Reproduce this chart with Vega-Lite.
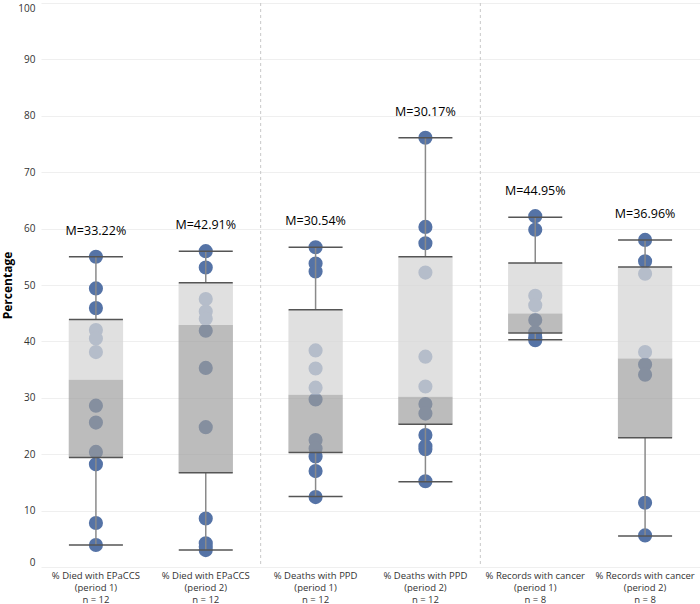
{
  "$schema": "https://vega.github.io/schema/vega-lite/v6.json",
  "width": 659,
  "height": 564,
  "padding": {"left": 1, "top": 2, "right": 0, "bottom": 0},
  "background": "white",
  "config": {
    "view": {"stroke": null},
    "font": "Open Sans",
    "axis": {"labelFont": "Open Sans", "titleFont": "Open Sans"}
  },
  "datasets": {
    "boxes": [
      {"cat": "% Died with EPaCCS|(period 1)|n = 12", "lo": 3.9, "q1": 19.4, "med": 33.22, "q3": 43.9, "hi": 55.0, "label": "M=33.22%"},
      {"cat": "% Died with EPaCCS|(period 2)|n = 12", "lo": 3.0, "q1": 16.7, "med": 42.91, "q3": 50.4, "hi": 56.0, "label": "M=42.91%"},
      {"cat": "% Deaths with PPD|(period 1)|n = 12", "lo": 12.5, "q1": 20.3, "med": 30.54, "q3": 45.6, "hi": 56.7, "label": "M=30.54%"},
      {"cat": "% Deaths with PPD|(period 2)|n = 12", "lo": 15.1, "q1": 25.3, "med": 30.17, "q3": 55.0, "hi": 76.1, "label": "M=30.17%"},
      {"cat": "% Records with cancer|(period 1)|n = 8", "lo": 40.3, "q1": 41.5, "med": 44.95, "q3": 53.9, "hi": 62.0, "label": "M=44.95%"},
      {"cat": "% Records with cancer|(period 2)|n = 8", "lo": 5.5, "q1": 22.9, "med": 36.96, "q3": 53.2, "hi": 58.0, "label": "M=36.96%"}
    ],
    "points": [
      {"cat": "% Died with EPaCCS|(period 1)|n = 12", "v": 55.0},
      {"cat": "% Died with EPaCCS|(period 1)|n = 12", "v": 49.4},
      {"cat": "% Died with EPaCCS|(period 1)|n = 12", "v": 45.9},
      {"cat": "% Died with EPaCCS|(period 1)|n = 12", "v": 42.0},
      {"cat": "% Died with EPaCCS|(period 1)|n = 12", "v": 40.5},
      {"cat": "% Died with EPaCCS|(period 1)|n = 12", "v": 38.1},
      {"cat": "% Died with EPaCCS|(period 1)|n = 12", "v": 28.6},
      {"cat": "% Died with EPaCCS|(period 1)|n = 12", "v": 25.6},
      {"cat": "% Died with EPaCCS|(period 1)|n = 12", "v": 20.4},
      {"cat": "% Died with EPaCCS|(period 1)|n = 12", "v": 18.2},
      {"cat": "% Died with EPaCCS|(period 1)|n = 12", "v": 7.8},
      {"cat": "% Died with EPaCCS|(period 1)|n = 12", "v": 3.9},
      {"cat": "% Died with EPaCCS|(period 2)|n = 12", "v": 56.0},
      {"cat": "% Died with EPaCCS|(period 2)|n = 12", "v": 53.1},
      {"cat": "% Died with EPaCCS|(period 2)|n = 12", "v": 47.5},
      {"cat": "% Died with EPaCCS|(period 2)|n = 12", "v": 45.3},
      {"cat": "% Died with EPaCCS|(period 2)|n = 12", "v": 44.0},
      {"cat": "% Died with EPaCCS|(period 2)|n = 12", "v": 41.9},
      {"cat": "% Died with EPaCCS|(period 2)|n = 12", "v": 35.3},
      {"cat": "% Died with EPaCCS|(period 2)|n = 12", "v": 24.8},
      {"cat": "% Died with EPaCCS|(period 2)|n = 12", "v": 8.6},
      {"cat": "% Died with EPaCCS|(period 2)|n = 12", "v": 4.2},
      {"cat": "% Died with EPaCCS|(period 2)|n = 12", "v": 3.6},
      {"cat": "% Died with EPaCCS|(period 2)|n = 12", "v": 3.0},
      {"cat": "% Deaths with PPD|(period 1)|n = 12", "v": 56.7},
      {"cat": "% Deaths with PPD|(period 1)|n = 12", "v": 53.8},
      {"cat": "% Deaths with PPD|(period 1)|n = 12", "v": 52.4},
      {"cat": "% Deaths with PPD|(period 1)|n = 12", "v": 38.4},
      {"cat": "% Deaths with PPD|(period 1)|n = 12", "v": 35.2},
      {"cat": "% Deaths with PPD|(period 1)|n = 12", "v": 31.8},
      {"cat": "% Deaths with PPD|(period 1)|n = 12", "v": 29.7},
      {"cat": "% Deaths with PPD|(period 1)|n = 12", "v": 22.5},
      {"cat": "% Deaths with PPD|(period 1)|n = 12", "v": 21.0},
      {"cat": "% Deaths with PPD|(period 1)|n = 12", "v": 19.6},
      {"cat": "% Deaths with PPD|(period 1)|n = 12", "v": 17.0},
      {"cat": "% Deaths with PPD|(period 1)|n = 12", "v": 12.4},
      {"cat": "% Deaths with PPD|(period 2)|n = 12", "v": 76.1},
      {"cat": "% Deaths with PPD|(period 2)|n = 12", "v": 60.3},
      {"cat": "% Deaths with PPD|(period 2)|n = 12", "v": 57.4},
      {"cat": "% Deaths with PPD|(period 2)|n = 12", "v": 52.2},
      {"cat": "% Deaths with PPD|(period 2)|n = 12", "v": 37.3},
      {"cat": "% Deaths with PPD|(period 2)|n = 12", "v": 32.0},
      {"cat": "% Deaths with PPD|(period 2)|n = 12", "v": 28.9},
      {"cat": "% Deaths with PPD|(period 2)|n = 12", "v": 27.2},
      {"cat": "% Deaths with PPD|(period 2)|n = 12", "v": 23.4},
      {"cat": "% Deaths with PPD|(period 2)|n = 12", "v": 21.4},
      {"cat": "% Deaths with PPD|(period 2)|n = 12", "v": 20.9},
      {"cat": "% Deaths with PPD|(period 2)|n = 12", "v": 15.2},
      {"cat": "% Records with cancer|(period 1)|n = 8", "v": 62.2},
      {"cat": "% Records with cancer|(period 1)|n = 8", "v": 59.8},
      {"cat": "% Records with cancer|(period 1)|n = 8", "v": 48.1},
      {"cat": "% Records with cancer|(period 1)|n = 8", "v": 46.4},
      {"cat": "% Records with cancer|(period 1)|n = 8", "v": 43.8},
      {"cat": "% Records with cancer|(period 1)|n = 8", "v": 41.6},
      {"cat": "% Records with cancer|(period 1)|n = 8", "v": 40.7},
      {"cat": "% Records with cancer|(period 1)|n = 8", "v": 40.2},
      {"cat": "% Records with cancer|(period 2)|n = 8", "v": 58.0},
      {"cat": "% Records with cancer|(period 2)|n = 8", "v": 54.2},
      {"cat": "% Records with cancer|(period 2)|n = 8", "v": 52.0},
      {"cat": "% Records with cancer|(period 2)|n = 8", "v": 38.1},
      {"cat": "% Records with cancer|(period 2)|n = 8", "v": 35.9},
      {"cat": "% Records with cancer|(period 2)|n = 8", "v": 34.1},
      {"cat": "% Records with cancer|(period 2)|n = 8", "v": 11.4},
      {"cat": "% Records with cancer|(period 2)|n = 8", "v": 5.6}
    ],
    "seps": [
      {"cat": "% Deaths with PPD|(period 1)|n = 12"},
      {"cat": "% Records with cancer|(period 1)|n = 8"}
    ]
  },
  "encoding": {
    "x": {
      "field": "cat",
      "type": "nominal",
      "scale": {
        "domain": [
          "% Died with EPaCCS|(period 1)|n = 12",
          "% Died with EPaCCS|(period 2)|n = 12",
          "% Deaths with PPD|(period 1)|n = 12",
          "% Deaths with PPD|(period 2)|n = 12",
          "% Records with cancer|(period 1)|n = 8",
          "% Records with cancer|(period 2)|n = 8"
        ],
        "paddingInner": 0,
        "paddingOuter": 0
      },
      "axis": {
        "title": null,
        "labelAngle": 0,
        "ticks": false,
        "domain": false,
        "grid": false,
        "labelExpr": "split(datum.label, '|')",
        "labelFontSize": 9.5,
        "labelLineHeight": 12,
        "labelPadding": 3,
        "labelColor": "#333333",
        "labelLimit": 200
      }
    }
  },
  "layer": [
    {
      "data": {"name": "seps"},
      "mark": {"type": "rule", "strokeDash": [3, 3], "color": "#c8c8c8", "strokeWidth": 1},
      "encoding": {
        "x": {"field": "cat", "type": "nominal", "bandPosition": 0}
      }
    },
    {
      "data": {"name": "points"},
      "mark": {"type": "circle", "size": 200, "color": "#5573a6", "opacity": 1},
      "encoding": {
        "y": {
          "field": "v",
          "type": "quantitative",
          "scale": {"domain": [0, 100], "nice": false},
          "axis": {
            "title": "Percentage",
            "titleFontSize": 12,
            "titleFontWeight": "bold",
            "titleColor": "#000000",
            "titlePadding": 3,
            "values": [0, 10, 20, 30, 40, 50, 60, 70, 80, 90, 100],
            "labelFlush": true,
            "labelFontSize": 10,
            "labelColor": "#333333",
            "labelPadding": 6,
            "ticks": false,
            "domain": false,
            "grid": true,
            "gridColor": "#efefef",
            "gridWidth": 1
          }
        }
      }
    },
    {
      "data": {"name": "boxes"},
      "mark": {"type": "bar", "color": "#d6d6d6", "opacity": 0.75, "width": {"band": 0.495}},
      "encoding": {
        "y": {"field": "med", "type": "quantitative"},
        "y2": {"field": "q3"}
      }
    },
    {
      "data": {"name": "boxes"},
      "mark": {"type": "bar", "color": "#9c9c9c", "opacity": 0.68, "width": {"band": 0.495}},
      "encoding": {
        "y": {"field": "q1", "type": "quantitative"},
        "y2": {"field": "med"}
      }
    },
    {
      "data": {"name": "boxes"},
      "mark": {"type": "rule", "color": "#8a8a8a", "strokeWidth": 1.5},
      "encoding": {
        "y": {"field": "lo", "type": "quantitative"},
        "y2": {"field": "q1"}
      }
    },
    {
      "data": {"name": "boxes"},
      "mark": {"type": "rule", "color": "#8a8a8a", "strokeWidth": 1.5},
      "encoding": {
        "y": {"field": "q3", "type": "quantitative"},
        "y2": {"field": "hi"}
      }
    },
    {
      "data": {"name": "boxes"},
      "transform": [{"fold": ["lo", "q1", "q3", "hi"], "as": ["k", "val"]}],
      "mark": {"type": "tick", "color": "#555555", "size": 54, "thickness": 1.5, "opacity": 1},
      "encoding": {
        "y": {"field": "val", "type": "quantitative"}
      }
    },
    {
      "data": {"name": "boxes"},
      "mark": {"type": "text", "fontSize": 12.5, "color": "#000000", "baseline": "middle", "dy": -26, "font": "Open Sans"},
      "encoding": {
        "y": {"field": "hi", "type": "quantitative"},
        "text": {"field": "label", "type": "nominal"}
      }
    }
  ]
}
